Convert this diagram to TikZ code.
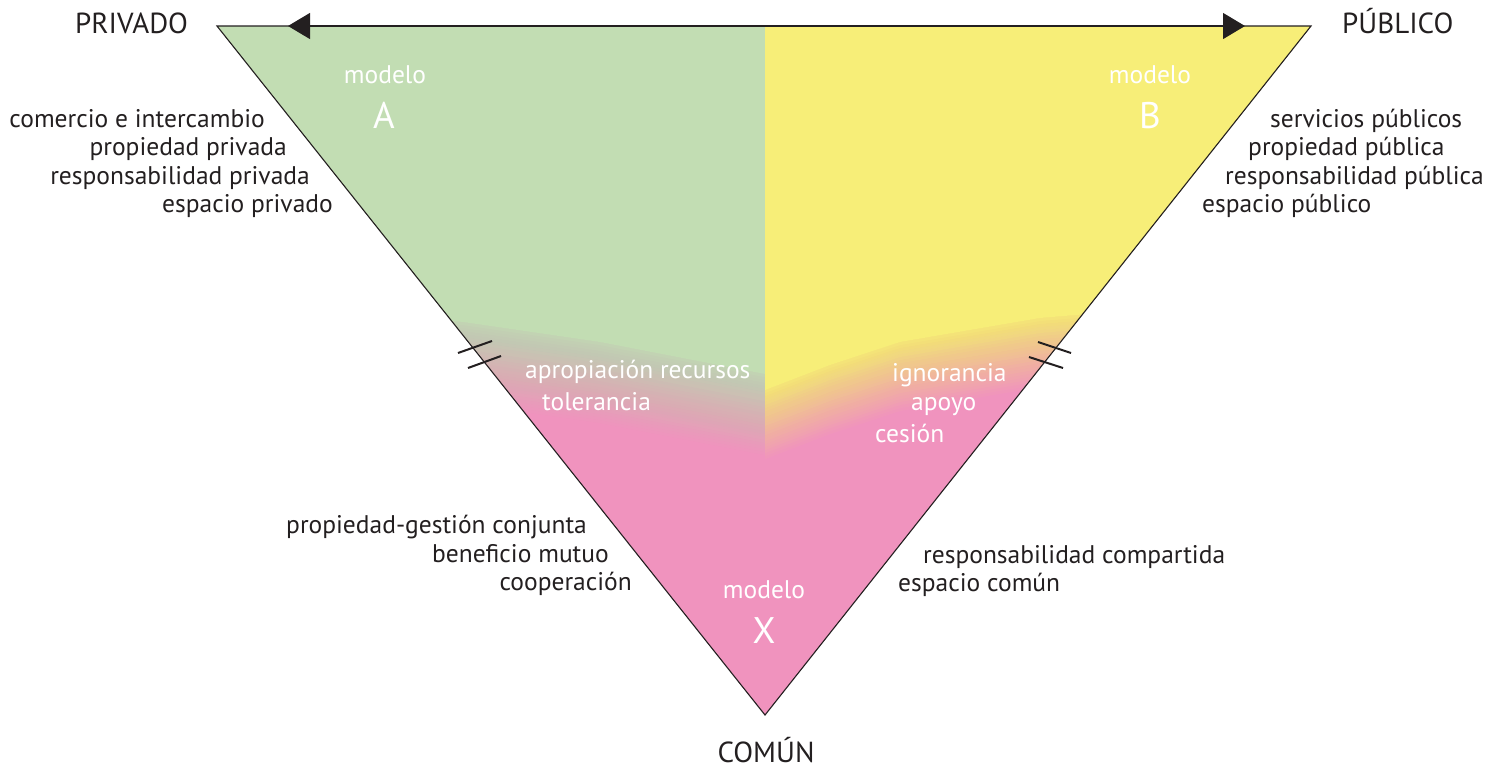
\documentclass[tikz,border=0pt]{standalone}
\usepackage{fontspec}
\setmainfont{PT Sans}
\usetikzlibrary{arrows.meta}
\definecolor{cgreen}{HTML}{C2DDB3}
\definecolor{cyellow}{HTML}{F7EE78}
\definecolor{cpink}{HTML}{F093BE}
\definecolor{ink}{HTML}{231F20}
\tikzset{
  lbl/.style={font=\fontsize{25.5}{28}\selectfont, text=ink, inner sep=0pt},
  wlbl/.style={font=\fontsize{25.5}{28}\selectfont, text=white, inner sep=0pt},
  biglbl/.style={font=\fontsize{37}{40}\selectfont, text=white, inner sep=0pt},
  ttl/.style={font=\fontsize{29}{32}\selectfont, text=ink, inner sep=0pt},
  edgeline/.style={draw=ink, line width=1.1pt},
  brk/.style={draw=ink, line width=2pt},
  bothtips/.style={{Triangle[length=22pt,width=26pt]}-{Triangle[length=22pt,width=26pt]}}
}
\begin{document}
\begin{tikzpicture}[x=1pt,y=-1pt]
\useasboundingbox (0,0) rectangle (1495,772);
\coordinate (TL) at (217,26);
\coordinate (TR) at (1311,26);
\coordinate (TM) at (765,26);
\coordinate (BT) at (765,715);
% left half: green fading into pink
\begin{scope}
  \clip (TL) -- (TM) -- (BT) -- cycle;
  \fill[cpink] (150,0) rectangle (800,800);
  \fill[cgreen] (150,0) -- (770,0) -- (770,375) -- (600,342) -- (463,322) -- (150,292) -- cycle;
  \foreach \k in {1,...,27} {
    \pgfmathsetmacro{\op}{1/(\k+1)}
    \pgfmathsetmacro{\off}{\k*3}
    \fill[cgreen, opacity=\op] (150,0) -- (770,0) -- (770,{375+\off}) -- (600,{342+\off}) -- (463,{322+\off}) -- (150,{292+\off}) -- cycle;
  }
\end{scope}
% right half: yellow fading into pink
\begin{scope}
  \clip (TM) -- (TR) -- (BT) -- cycle;
  \fill[cpink] (740,0) rectangle (1400,800);
  \fill[cyellow] (760,0) -- (1400,0) -- (1400,288) -- (1040,318) -- (900,342) -- (830,365) -- (760,392) -- cycle;
  \foreach \k in {1,...,23} {
    \pgfmathsetmacro{\op}{1/(\k+1)}
    \pgfmathsetmacro{\off}{\k*3}
    \fill[cyellow, opacity=\op] (760,0) -- (1400,0) -- (1400,{288+\off}) -- (1040,{318+\off}) -- (900,{342+\off}) -- (830,{365+\off}) -- (760,{392+\off}) -- cycle;
  }
\end{scope}
% outline
\draw[edgeline] (TL) -- (TR) -- (BT) -- cycle;
\coordinate (aL) at (288,26);
\coordinate (aR) at (1245,26);
\draw[ink, line width=1.1pt, bothtips] (aL) -- (aR);
% break marks
\coordinate (l1a) at (458,353); \coordinate (l1b) at (492,341);
\coordinate (l2a) at (468,368); \coordinate (l2b) at (501,356);
\coordinate (r1a) at (1038,342); \coordinate (r1b) at (1071,353);
\coordinate (r2a) at (1029,357); \coordinate (r2b) at (1063,368);
\draw[brk] (l1a) -- (l1b);
\draw[brk] (l2a) -- (l2b);
\draw[brk] (r1a) -- (r1b);
\draw[brk] (r2a) -- (r2b);
% titles
\node[ttl, anchor=base west] (priv) at (75,33) {PRIVADO};
\node[ttl, anchor=base west] (pub) at (1342,33) {PÚBLICO};
\node[ttl, anchor=base] (com) at (766,762) {COMÚN};
% left list
\node[lbl, anchor=base east] (l1) at (265,127) {comercio e intercambio};
\node[lbl, anchor=base east] (l2) at (287,155.5) {propiedad privada};
\node[lbl, anchor=base east] (l3) at (310,184) {responsabilidad privada};
\node[lbl, anchor=base east] (l4) at (333,212.5) {espacio privado};
% right list
\node[lbl, anchor=base west] (r1) at (1270,127) {servicios públicos};
\node[lbl, anchor=base west] (r2) at (1248,155.5) {propiedad pública};
\node[lbl, anchor=base west] (r3) at (1225,184) {responsabilidad pública};
\node[lbl, anchor=base west] (r4) at (1202,212.5) {espacio público};
% bottom lists
\node[lbl, anchor=base east] (bl1) at (587,533) {propiedad-gestión conjunta};
\node[lbl, anchor=base east] (bl2) at (609,562) {beneficio mutuo};
\node[lbl, anchor=base east] (bl3) at (632,590) {cooperación};
\node[lbl, anchor=base west] (br1) at (923,563) {responsabilidad compartida};
\node[lbl, anchor=base west] (br2) at (898,591) {espacio común};
% models
\node[wlbl, anchor=base] (mA) at (385,83) {modelo};
\node[biglbl, anchor=base] (A) at (384,128) {A};
\node[wlbl, anchor=base] (mB) at (1150,83) {modelo};
\node[biglbl, anchor=base] (Bm) at (1150,128) {B};
\node[wlbl, anchor=base] (mX) at (764,598) {modelo};
\node[biglbl, anchor=base] (X) at (764,643) {X};
% blend labels
\node[wlbl, anchor=base west] (c1) at (525,378) {apropiación recursos};
\node[wlbl, anchor=base west] (c2) at (542,410) {tolerancia};
\node[wlbl, anchor=base west] (c3) at (892,381) {ignorancia};
\node[wlbl, anchor=base west] (c4) at (911,410) {apoyo};
\node[wlbl, anchor=base west] (c5) at (875,442) {cesión};
\end{tikzpicture}
\end{document}
